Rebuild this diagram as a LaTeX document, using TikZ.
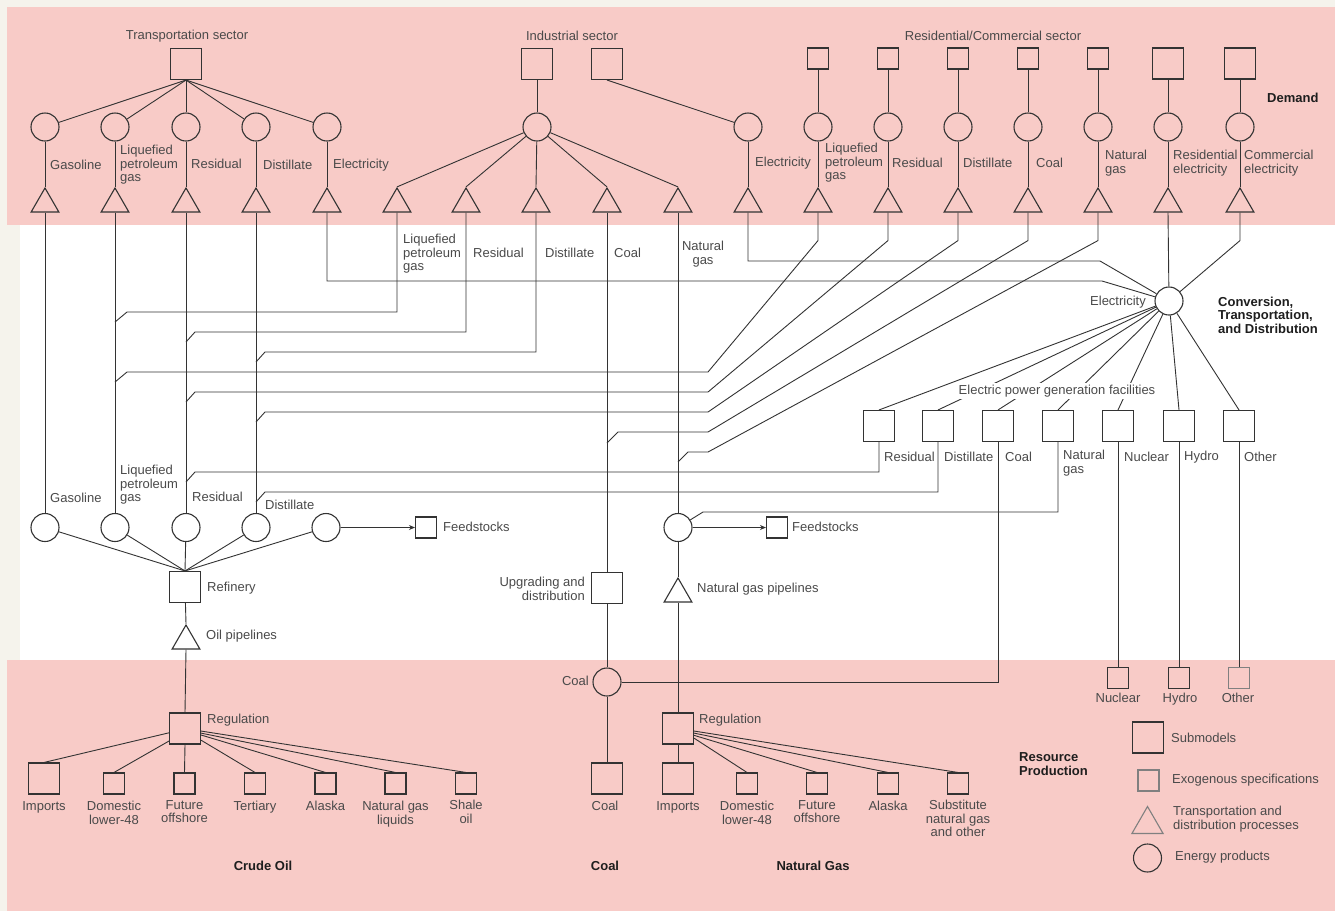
\documentclass[tikz,border=0pt]{standalone}
\usepackage{fontspec}
\setmainfont{Liberation Sans}
\usetikzlibrary{shapes.geometric,arrows.meta}
\newcommand{\lblfont}{\fontsize{13}{13.5}\selectfont}
\newcommand{\hdfont}{\fontsize{13}{13.5}\selectfont\bfseries}

\begin{document}
\begin{tikzpicture}[x=1pt, y=-1pt,
    conn/.style={line width=0.9pt, draw=lineColour},
    submodel/.style={draw=lineColour, line width=1.1pt, minimum size=31pt, inner sep=0pt},
    exospec/.style={draw=lineColour, line width=1.1pt, minimum size=21pt, inner sep=0pt},
    product/.style={draw=lineColour, circle, line width=1.1pt, minimum size=28pt, inner sep=0pt},
    transproc/.style={draw=lineColour, regular polygon, regular polygon sides=3, line width=1.1pt, minimum size=32pt, inner sep=0pt},
    lbl/.style={font=\lblfont, text=textColour, inner sep=0pt, align=left},
    sector/.style={font=\hdfont, text=headColour, inner sep=0pt, align=left}]
    % Define colours
    \definecolor{bandColour}{HTML}{F8CBC7}
    \definecolor{creamColour}{HTML}{F5F3EC}
    \definecolor{lineColour}{HTML}{333333}
    \definecolor{textColour}{HTML}{4A4A4A}
    \definecolor{headColour}{HTML}{1E1E1E}

    % Define row heights
    \def\sqRow{64}
    \def\circRow{127}
    \def\triRow{204}

    % Draw background bands
    \useasboundingbox (0,0) rectangle (1335,911);
    \fill[creamColour] (0,0) rectangle (1335,911);
    \fill[bandColour] (7,7) rectangle (1335,225);
    \fill[white] (20,225) rectangle (1335,660);
    \fill[bandColour] (7,660) rectangle (1335,911);

    % Transportation sector
    \node[lbl] (tsector) at (187,36) {Transportation sector};
    \node[submodel] (tsq) at (186,\sqRow) {};
    \foreach \x/\n in {45/1,115/2,186/3,256/4,327/5} {
        \node[product] (tc\n) at (\x,\circRow) {};
        \node[transproc] (tt\n) at (\x,\triRow) {};
        \draw[conn] (tsq.south) -- (tc\n);
        \draw[conn] (tc\n) -- (tt\n.north);
    }
    \node[lbl, anchor=west] (tl1) at (50,165) {Gasoline};
    \node[lbl, anchor=west] (tl2) at (120,165) {Liquefied\\petroleum\\gas};
    \node[lbl, anchor=west] (tl3) at (191,164) {Residual};
    \node[lbl, anchor=west] (tl4) at (263,165) {Distillate};
    \node[lbl, anchor=west] (tl5) at (333,165) {Electricity};

    % Industrial sector
    \node[lbl] (isector) at (572,36) {Industrial sector};
    \node[submodel] (isq1) at (537,\sqRow) {};
    \node[submodel] (isq2) at (607,\sqRow) {};
    \node[product] (ic) at (537,\circRow) {};
    \draw[conn] (isq1) -- (ic);
    \foreach \x/\n in {397/1,466/2,536/3,607/4,678/5} {
        \node[transproc] (it\n) at (\x,\triRow) {};
        \draw[conn] (ic) -- (it\n.north);
    }
    \node[product] (ie) at (748,\circRow) {};
    \node[transproc] (iet) at (748,\triRow) {};
    \draw[conn] (isq2.south) -- (ie);
    \draw[conn] (ie) -- (iet.north);
    \node[lbl, anchor=west] (iel) at (755,163) {Electricity};
    \node[lbl, anchor=west] (il1) at (403,254) {Liquefied\\petroleum\\gas};
    \node[lbl, anchor=west] (il2) at (473,253) {Residual};
    \node[lbl, anchor=west] (il3) at (545,253) {Distillate};
    \node[lbl, anchor=west] (il4) at (614,253) {Coal};
    \node[lbl, align=center] (il5) at (703,254) {Natural\\gas};

    % Residential/Commercial sector
    \node[lbl] (rsector) at (993,36) {Residential/Commercial sector};
    \foreach \x/\n in {818/1,888/2,958/3,1028/4,1098/5} {
        \node[exospec] (rsq\n) at (\x,58.5) {};
    }
    \node[submodel] (rsq6) at (1168,63.5) {};
    \node[submodel] (rsq7) at (1240,63.5) {};
    \foreach \x/\n in {818/1,888/2,958/3,1028/4,1098/5,1168/6,1240/7} {
        \node[product] (rc\n) at (\x,\circRow) {};
        \node[transproc] (rt\n) at (\x,\triRow) {};
        \draw[conn] (rsq\n) -- (rc\n);
        \draw[conn] (rc\n) -- (rt\n.north);
    }
    \node[lbl, anchor=west] (rl1) at (825,163) {Liquefied\\petroleum\\gas};
    \node[lbl, anchor=west] (rl2) at (892,163) {Residual};
    \node[lbl, anchor=west] (rl3) at (963,163) {Distillate};
    \node[lbl, anchor=west] (rl4) at (1036,163) {Coal};
    \node[lbl, anchor=west] (rl5) at (1105,163) {Natural\\gas};
    \node[lbl, anchor=west] (rl6) at (1173,163) {Residential\\electricity};
    \node[lbl, anchor=west] (rl7) at (1244,163) {Commercial\\electricity};
    \node[sector, anchor=west] (demand) at (1267,98) {Demand};

    % Electricity hub and power generation
    \node[product] (hub) at (1169,301) {};
    \node[lbl, anchor=east] (hubl) at (1146,302) {Electricity};
    \node[sector, anchor=west] (ctd) at (1218,315) {Conversion,\\Transportation,\\and Distribution};
    \foreach \x/\n in {879/1,938/2,998/3,1058/4,1118/5,1179/6,1239/7} {
        \node[submodel] (pg\n) at (\x,426) {};
        \draw[conn] (hub) -- (pg\n.north);
    }
    \node[lbl, fill=white, inner sep=1.5pt] (pgl) at (1057,391) {Electric power generation facilities};
    \node[lbl, anchor=west] (pl1) at (884,457) {Residual};
    \node[lbl, anchor=west] (pl2) at (944,457) {Distillate};
    \node[lbl, anchor=west] (pl3) at (1005,457) {Coal};
    \node[lbl, anchor=west] (pl4) at (1063,463) {Natural\\gas};
    \node[lbl, anchor=west] (pl5) at (1124,457) {Nuclear};
    \node[lbl, anchor=west] (pl6) at (1184,457) {Hydro};
    \node[lbl, anchor=west] (pl7) at (1244,457) {Other};

    % Electricity flows into the hub
    \coordinate (kIE) at (1100,261);
    \coordinate (kTE) at (1102,281);
    \draw[conn] (iet.south) |- (kIE) -- (hub);
    \draw[conn] (tt5.south) |- (kTE) -- (hub);
    \draw[conn] (rt6.south) -- (hub);
    \draw[conn] (rt7.south) -- ++(0,28) -- (hub);

    % Refinery products
    \foreach \x/\n in {45/1,115/2,186/3,256/4,326/5} {
        \node[product] (oc\n) at (\x,527.5) {};
    }
    \foreach \n in {1,...,4} {
        \draw[conn] (tt\n.south) -- (oc\n.north);
    }
    \node[lbl, anchor=west] (ol1) at (50,498) {Gasoline};
    \node[lbl, anchor=west] (ol2) at (120,485) {Liquefied\\petroleum\\gas};
    \node[lbl, anchor=west] (ol3) at (192,497) {Residual};
    \node[lbl, anchor=west] (ol4) at (265,505) {Distillate};

    % Join points on the oil product trunks
    \coordinate (ji1) at (115,322);
    \coordinate (ji2) at (186,342);
    \coordinate (ji3) at (256,362);
    \coordinate (jr1) at (115,382);
    \coordinate (jr2) at (186,402);
    \coordinate (jr3) at (256,422);
    \coordinate (jr4) at (607,443);
    \coordinate (jr5) at (678,462);
    \coordinate (jp1) at (186,482);
    \coordinate (jp2) at (256,502);

    % Industrial branches
    \draw[conn] (it1.south) |- (127,312) -- (ji1);
    \draw[conn] (it2.south) |- (195,332) -- (ji2);
    \draw[conn] (it3.south) |- (265,352) -- (ji3);

    % Residential/Commercial branches
    \draw[conn] (rt1.south) -- ++(0,28) -- (708,372) -- (127,372) -- (jr1);
    \draw[conn] (rt2.south) -- ++(0,28) -- (708,392) -- (195,392) -- (jr2);
    \draw[conn] (rt3.south) -- ++(0,28) -- (708,412) -- (265,412) -- (jr3);
    \draw[conn] (rt4.south) -- ++(0,28) -- (708,432) -- (618,432) -- (jr4);
    \draw[conn] (rt5.south) -- ++(0,28) -- (708,452) -- (688,452) -- (jr5);

    % Refinery and crude oil
    \node[submodel] (ref) at (185,587) {};
    \node[lbl, anchor=west] (refl) at (207,588) {Refinery};
    \foreach \n in {1,...,5} {
        \draw[conn] (oc\n) -- (ref.north);
    }
    \node[exospec] (feedO) at (426,527.5) {};
    \node[lbl, anchor=west] (feedOl) at (443,527) {Feedstocks};
    \draw[conn, -{Stealth[length=6pt,width=5pt]}] (oc5) -- (feedO);
    \node[transproc] (oilp) at (186,641) {};
    \node[lbl, anchor=west] (oilpl) at (206,636) {Oil pipelines};
    \draw[conn] (ref) -- (oilp.north);
    \node[submodel] (oilreg) at (185,728.5) {};
    \node[lbl, anchor=west] (oilregl) at (207,720) {Regulation};
    \draw[conn] (oilp.south) -- (oilreg.north);

    % Crude oil resources
    \node[submodel] (os1) at (44,778.5) {};
    \foreach \x/\n in {114/2,184.5/3,255/4,325.5/5,395.5/6,466/7} {
        \node[exospec] (os\n) at (\x,783.5) {};
    }
    \foreach \a/\n in {195/1,218/2,-90/3,-36/4,-22/5,-16/6,-9/7} {
        \draw[conn] (oilreg.\a) -- (os\n.north);
    }
    \node[lbl, anchor=north, align=center] (osl1) at (44,801) {Imports};
    \node[lbl, anchor=north, align=center] (osl2) at (114,801) {Domestic\\lower-48};
    \node[lbl, anchor=north, align=center] (osl3) at (184.5,800) {Future\\offshore};
    \node[lbl, anchor=north, align=center] (osl4) at (255,801) {Tertiary};
    \node[lbl, anchor=north, align=center] (osl5) at (325.5,801) {Alaska};
    \node[lbl, anchor=north, align=center] (osl6) at (395.5,801) {Natural gas\\liquids};
    \node[lbl, anchor=north, align=center] (osl7) at (466,800) {Shale\\oil};
    \node[sector] (crude) at (263,866) {Crude Oil};

    % Coal
    \node[submodel] (upg) at (607,588) {};
    \node[lbl, anchor=east, align=right] (upgl) at (585,589) {Upgrading and\\distribution};
    \node[product] (coalc) at (607,682) {};
    \node[lbl, anchor=east] (coalcl) at (589,681) {Coal};
    \node[submodel] (coalres) at (607,778.5) {};
    \node[lbl, anchor=north] (coalresl) at (605,801) {Coal};
    \node[sector] (coalhd) at (605,866) {Coal};
    \draw[conn] (it4.south) -- (upg.north);
    \draw[conn] (upg.south) -- (coalc.north);
    \draw[conn] (coalc.south) -- (coalres.north);
    \draw[conn] (pg3.south) |- (coalc.east);

    % Natural gas
    \node[product] (ngc) at (678,527.5) {};
    \node[exospec] (feedG) at (777,527.5) {};
    \node[lbl, anchor=west] (feedGl) at (792,527) {Feedstocks};
    \draw[conn, -{Stealth[length=6pt,width=5pt]}] (ngc) -- (feedG);
    \node[transproc] (ngp) at (678,594) {};
    \node[lbl, anchor=west] (ngpl) at (697,589) {Natural gas pipelines};
    \node[submodel] (ngreg) at (678,728.5) {};
    \node[lbl, anchor=west] (ngregl) at (699,720) {Regulation};
    \draw[conn] (it5.south) -- (ngc.north);
    \draw[conn] (ngc.south) -- (ngp.north);
    \draw[conn] (ngp.south) -- (ngreg.north);
    \node[submodel] (ns1) at (678,778.5) {};
    \foreach \x/\n in {747/2,817/3,888/4,958/5} {
        \node[exospec] (ns\n) at (\x,783.5) {};
    }
    \foreach \a/\n in {-90/1,-31/2,-23/3,-16/4,-9/5} {
        \draw[conn] (ngreg.\a) -- (ns\n.north);
    }
    \node[lbl, anchor=north, align=center] (nsl1) at (678,801) {Imports};
    \node[lbl, anchor=north, align=center] (nsl2) at (747,801) {Domestic\\lower-48};
    \node[lbl, anchor=north, align=center] (nsl3) at (817,800) {Future\\offshore};
    \node[lbl, anchor=north, align=center] (nsl4) at (888,801) {Alaska};
    \node[lbl, anchor=north, align=center] (nsl5) at (958,800) {Substitute\\natural gas\\and other};
    \node[sector] (nghd) at (813,866) {Natural Gas};

    % Power plant feeds from the oil and gas trunks
    \draw[conn] (pg1.south) |- (195,472) -- (jp1);
    \draw[conn] (pg2.south) |- (265,492) -- (jp2);
    \draw[conn] (pg4.south) |- (703,512) -- (ngc);

    % Nuclear, hydro and other resources
    \node[exospec] (xnuc) at (1118,678) {};
    \node[exospec] (xhyd) at (1179,678) {};
    \node[exospec, draw=gray] (xoth) at (1239,678) {};
    \draw[conn] (pg5.south) -- (xnuc.north);
    \draw[conn] (pg6.south) -- (xhyd.north);
    \draw[conn] (pg7.south) -- (xoth.north);
    \node[lbl, anchor=north] (xnucl) at (1118,693) {Nuclear};
    \node[lbl, anchor=north] (xhydl) at (1180,693) {Hydro};
    \node[lbl, anchor=north] (xothl) at (1238,693) {Other};
    \node[sector, anchor=west] (resprod) at (1019,764) {Resource\\Production};

    % Key
    \node[submodel] (keysub) at (1148,737.5) {};
    \node[lbl, anchor=west] (keysubl) at (1171,738) {Submodels};
    \node[exospec, draw=gray] (keyexo) at (1148.5,780.5) {};
    \node[lbl, anchor=west] (keyexol) at (1172,780) {Exogenous specifications};
    \node[transproc, draw=gray, minimum size=36pt] (keyproc) at (1147.5,824.5) {};
    \node[lbl, anchor=west] (keyprocl) at (1173,819) {Transportation and\\distribution processes};
    \node[product] (keyprod) at (1147.5,858) {};
    \node[lbl, anchor=west] (keyprodl) at (1175,857) {Energy products};

\end{tikzpicture}
\end{document}
